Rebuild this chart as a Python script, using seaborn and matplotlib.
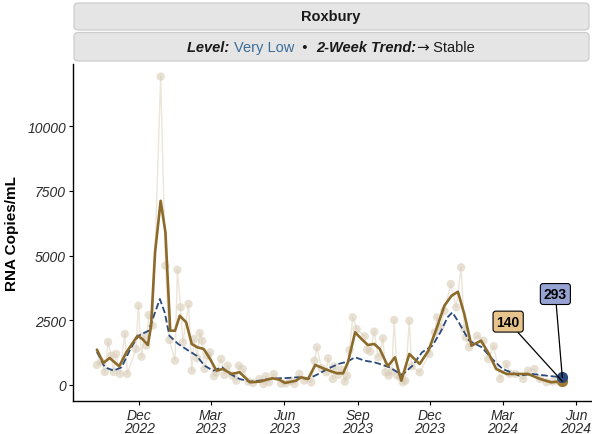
import matplotlib
matplotlib.use("Agg")
import matplotlib.pyplot as plt
import matplotlib.dates as mdates
from matplotlib.patches import FancyBboxPatch
from matplotlib.offsetbox import TextArea, HPacker, AnnotationBbox
import pandas as pd
import seaborn as sns

# raw samples (light tan points)
raw_dates = [
    "2022-10-09", "2022-10-14", "2022-10-19", "2022-10-23", "2022-10-27", "2022-10-30",
    "2022-11-02", "2022-11-07", "2022-11-13", "2022-11-16", "2022-11-27", "2022-11-30",
    "2022-12-04", "2022-12-07", "2022-12-10", "2022-12-13", "2022-12-18", "2022-12-28",
    "2023-01-03", "2023-01-08", "2023-01-15", "2023-01-18", "2023-01-22", "2023-01-25",
    "2023-02-01", "2023-02-05", "2023-02-08", "2023-02-12", "2023-02-15", "2023-02-18",
    "2023-02-21", "2023-02-25", "2023-02-28", "2023-03-05", "2023-03-08", "2023-03-14",
    "2023-03-18", "2023-03-22", "2023-03-28", "2023-04-02", "2023-04-05", "2023-04-10",
    "2023-04-17", "2023-04-23", "2023-05-01", "2023-05-06", "2023-05-09", "2023-05-13",
    "2023-05-19", "2023-05-28", "2023-06-03", "2023-06-09", "2023-06-14", "2023-06-20",
    "2023-06-26", "2023-07-05", "2023-07-09", "2023-07-12", "2023-07-18", "2023-07-24",
    "2023-07-26", "2023-08-01", "2023-08-03", "2023-08-08", "2023-08-12", "2023-08-16",
    "2023-08-19", "2023-08-22", "2023-08-26", "2023-08-31", "2023-09-10", "2023-09-13",
    "2023-09-17", "2023-09-22", "2023-09-27", "2023-10-03", "2023-10-06", "2023-10-10",
    "2023-10-14", "2023-10-17", "2023-10-21", "2023-10-25", "2023-10-28", "2023-10-31",
    "2023-11-05", "2023-11-08", "2023-11-18", "2023-11-30", "2023-12-07", "2023-12-10",
    "2023-12-14", "2023-12-19", "2023-12-27", "2024-01-03", "2024-01-09", "2024-01-13",
    "2024-01-15", "2024-01-19", "2024-01-29", "2024-02-06", "2024-02-12", "2024-02-19",
    "2024-02-27", "2024-03-06", "2024-03-10", "2024-03-17", "2024-03-27", "2024-04-02",
    "2024-04-10", "2024-04-17", "2024-04-25", "2024-05-03", "2024-05-10", "2024-05-15",
]
raw_values = [
    772, 900, 500, 1660, 1130, 500, 1197, 425, 1970, 425, 1390, 3060,
    1090, 1900, 1517, 2700, 2290, 11915,
    4605, 1737, 938, 4450, 3000, 1648, 3127, 552, 1776, 1030, 2007, 1710,
    618, 1131, 1262, 336, 490, 1004, 386, 745, 360, 166, 745, 618,
    127, 77, 232, 39, 336, 104, 425, 50, 60, 150, 40, 425,
    166, 104, 938, 1455, 644, 490, 1030, 232, 720, 386, 592, 127,
    360, 1351, 2613, 2162, 1880, 1363, 1285, 2057, 1069, 1802, 490, 360,
    514, 2509, 360, 297, 104, 166, 2482, 720, 490, 1197, 2034, 2613,
    2227, 2868, 3899, 3000, 4543, 2162, 1841, 1455, 1900, 1710, 1004, 1494,
    232, 810, 425, 425, 232, 552, 618, 232, 104, 127, 166, 104,
]

# smoothed trend (solid gold)
smooth_dates = [
    "2022-10-09", "2022-10-17", "2022-10-25", "2022-11-06", "2022-11-15", "2022-11-29",
    "2022-12-05", "2022-12-12", "2022-12-16", "2022-12-21", "2022-12-28", "2023-01-03",
    "2023-01-09", "2023-01-15", "2023-01-21", "2023-01-29", "2023-02-05", "2023-02-12",
    "2023-02-20", "2023-02-28", "2023-03-08", "2023-03-16", "2023-03-27", "2023-04-06",
    "2023-04-19", "2023-05-01", "2023-05-17", "2023-05-26", "2023-06-02", "2023-06-16",
    "2023-06-22", "2023-07-01", "2023-07-10", "2023-07-22", "2023-08-06", "2023-08-14",
    "2023-08-20", "2023-08-29", "2023-09-06", "2023-09-14", "2023-09-22", "2023-09-29",
    "2023-10-09", "2023-10-18", "2023-10-26", "2023-11-05", "2023-11-18", "2023-11-29",
    "2023-12-09", "2023-12-19", "2023-12-28", "2024-01-05", "2024-01-13", "2024-01-22",
    "2024-02-03", "2024-02-13", "2024-02-22", "2024-03-06", "2024-03-19", "2024-04-02",
    "2024-04-17", "2024-05-01", "2024-05-15",
]
smooth_values = [
    1363, 849, 1042, 720, 1262, 1900, 1776, 1544, 2290, 5134, 7114, 5894,
    2096, 2096, 2675, 2420, 1583, 1455, 1390, 1004, 552, 618, 425, 490,
    104, 127, 259, 205, 77, 166, 297, 232, 772, 618, 451, 451,
    876, 2034, 1776, 1544, 1583, 1390, 720, 1069, 166, 1197, 810, 1324,
    2162, 3061, 3447, 3601, 2740, 1517, 1710, 1197, 618, 425, 425, 425,
    232, 104, 140,
]

# longer-term average (dashed navy)
avg_dates = [
    "2022-10-09", "2022-10-19", "2022-10-30", "2022-11-09", "2022-11-20", "2022-11-30",
    "2022-12-13", "2022-12-21", "2022-12-27", "2023-01-02", "2023-01-08", "2023-01-19",
    "2023-02-01", "2023-02-11", "2023-02-21", "2023-03-04", "2023-03-15", "2023-03-25",
    "2023-04-06", "2023-04-19", "2023-05-01", "2023-05-14", "2023-05-26", "2023-06-05",
    "2023-06-18", "2023-07-01", "2023-07-14", "2023-07-27", "2023-08-08", "2023-08-19",
    "2023-08-29", "2023-09-10", "2023-09-22", "2023-09-29", "2023-10-11", "2023-10-27",
    "2023-11-09", "2023-11-21", "2023-12-04", "2023-12-14", "2023-12-23", "2023-12-29",
    "2024-01-06", "2024-01-19", "2024-02-04", "2024-02-17", "2024-03-01", "2024-03-22",
    "2024-04-07", "2024-04-25", "2024-05-15",
]
avg_values = [
    1274, 683, 552, 683, 1390, 1900, 2096, 2806, 3320, 2806, 1900, 1583,
    1324, 1131, 745, 552, 683, 425, 232, 127, 166, 232, 259, 270,
    297, 232, 425, 644, 810, 900, 1069, 938, 876, 810, 683, 386,
    745, 1262, 1517, 2034, 2613, 2806, 2420, 1710, 1455, 1004, 618, 360,
    425, 360, 293,
]

site = "Roxbury"
level = "Very Low"
trend = "Stable"
y_ticks = [0, 2500, 5000, 7500, 10000]
x_ticks = ["2022-12-01", "2023-03-01", "2023-06-01", "2023-09-01",
           "2023-12-01", "2024-03-01", "2024-06-01"]

raw = pd.DataFrame({"date": pd.to_datetime(raw_dates), "value": raw_values})
smooth = pd.DataFrame({"date": pd.to_datetime(smooth_dates), "value": smooth_values})
avg = pd.DataFrame({"date": pd.to_datetime(avg_dates), "value": avg_values})

sns.set_theme(style="ticks")
plt.rcParams["font.family"] = ["Liberation Sans", "DejaVu Sans"]

GOLD = "#8C6A2A"
NAVY = "#2A4A7D"
TAN = "#D8CCB6"

fig = plt.figure(figsize=(5.92, 4.35), dpi=100)
ax = fig.add_axes([73 / 592, 1 - 402 / 435, 518 / 592, 337 / 435])

sns.lineplot(data=raw, x="date", y="value", ax=ax, color="#ECE5D8", lw=1.0, zorder=1)
sns.scatterplot(data=raw, x="date", y="value", ax=ax, color=TAN, s=36,
                edgecolor="none", alpha=0.6, zorder=2)
sns.lineplot(data=avg, x="date", y="value", ax=ax, color=NAVY, lw=1.3,
             dashes=(3.5, 3), linestyle="--", zorder=3)
sns.lineplot(data=smooth, x="date", y="value", ax=ax, color=GOLD, lw=1.9, zorder=4)

# end points and labels
last_s = smooth.iloc[-1]
last_a = avg.iloc[-1]
ax.scatter([last_s["date"]], [last_s["value"]], s=50, color="#A0782F", zorder=5)
ax.scatter([last_a["date"]], [last_a["value"]], s=50, color=NAVY, zorder=6)
ax.annotate(f"{last_s['value']:.0f}", xy=(last_s["date"], last_s["value"]),
            xytext=(-39, 43), textcoords="offset points", ha="center", va="center",
            fontsize=10, fontweight="bold", color="black",
            bbox=dict(boxstyle="round,pad=0.25,rounding_size=0.2", fc="#E8C48C", ec="black", lw=0.8),
            arrowprops=dict(arrowstyle="-", color="black", lw=0.9, shrinkA=0, shrinkB=0),
            zorder=7)
ax.annotate(f"{last_a['value']:.0f}", xy=(last_a["date"], last_a["value"]),
            xytext=(-5, 60), textcoords="offset points", ha="center", va="center",
            fontsize=10, fontweight="bold", color="black",
            bbox=dict(boxstyle="round,pad=0.25,rounding_size=0.2", fc="#96A2D2", ec="black", lw=0.8),
            arrowprops=dict(arrowstyle="-", color="black", lw=0.9, shrinkA=0, shrinkB=0),
            zorder=7)

ax.set_xlim(pd.Timestamp("2022-09-09"), pd.Timestamp("2024-06-20"))
ax.set_ylim(-620, 12400)
ax.set_yticks(y_ticks)
ax.set_yticklabels([str(t) for t in y_ticks])
ax.set_xticks(pd.to_datetime(x_ticks))
ax.xaxis.set_major_formatter(mdates.DateFormatter("%b\n%Y"))
ax.tick_params(axis="both", labelsize=10, colors="black", labelcolor="#2B2B2B",
               length=3, width=0.8, direction="out", pad=2)
for lab in ax.get_xticklabels() + ax.get_yticklabels():
    lab.set_fontstyle("italic")
for lab in ax.get_xticklabels():
    lab.set_linespacing(0.9)
ax.set_xlabel("")
ax.set_ylabel("RNA Copies/mL", fontsize=11, fontweight="bold", color="black")
ax.yaxis.set_label_coords(-0.105, 0.5)
sns.despine(ax=ax)
ax.spines["left"].set_linewidth(1.0)
ax.spines["bottom"].set_linewidth(1.0)
ax.spines["left"].set_color("black")
ax.spines["bottom"].set_color("black")

# facet strips
W, H = 592, 435
for (y0, y1) in [(4, 31), (33.5, 62)]:
    fig.add_artist(FancyBboxPatch((74 / W, 1 - y1 / H), 515 / W, (y1 - y0) / H,
                                  boxstyle="round,pad=0,rounding_size=0.008",
                                  transform=fig.transFigure, fc="#E5E5E5",
                                  ec="#CCCCCC", lw=0.9))
fig.text(331 / W, 1 - 17.5 / H, site, ha="center", va="center",
         fontsize=10.5, fontweight="bold", color="#1A1A1A")

parts = [
    TextArea("Level: ", textprops=dict(fontsize=10.5, fontweight="bold", fontstyle="italic", color="#1A1A1A")),
    TextArea(level, textprops=dict(fontsize=10.5, color="#3B6C98")),
    TextArea("  \u2022  ", textprops=dict(fontsize=10.5, color="#1A1A1A")),
    TextArea("2-Week Trend:", textprops=dict(fontsize=10.5, fontweight="bold", fontstyle="italic", color="#1A1A1A")),
    TextArea("\u2192", textprops=dict(fontsize=11, family="DejaVu Sans", color="#1A1A1A")),
    TextArea(" " + trend, textprops=dict(fontsize=10.5, color="#1A1A1A")),
]
box = HPacker(children=parts, align="baseline", pad=0, sep=0)
ab = AnnotationBbox(box, (331 / W, 1 - 47.5 / H), xycoords="figure fraction",
                    frameon=False, box_alignment=(0.5, 0.5), annotation_clip=False)
fig.add_artist(ab)

fig.savefig("out.png", dpi=100)
